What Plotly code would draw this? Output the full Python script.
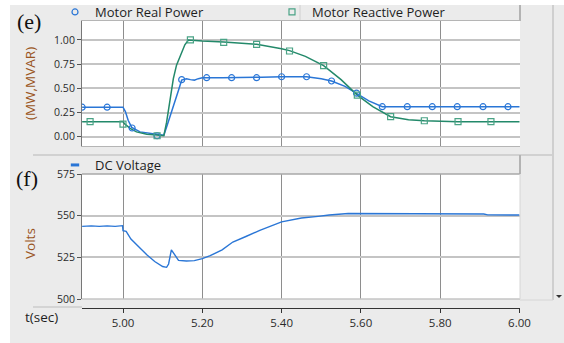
import plotly.graph_objects as go

W, H = 564, 343

# ---------------- data ----------------
# Motor Real Power (line)
t_real = [4.897, 5.0, 5.006, 5.013, 5.022, 5.043, 5.085, 5.10, 5.103, 5.11, 5.12, 5.13, 5.14,
          5.148, 5.16, 5.17, 5.18, 5.19, 5.20, 5.25, 5.30, 5.35, 5.40, 5.463, 5.50, 5.526,
          5.56, 5.589, 5.62, 5.654, 5.70, 6.0]
p_real = [0.305, 0.305, 0.26, 0.17, 0.097, 0.05, 0.025, 0.017, 0.015, 0.10, 0.22, 0.35, 0.48,
          0.586, 0.60, 0.59, 0.585, 0.60, 0.61, 0.61, 0.61, 0.615, 0.62, 0.62, 0.60, 0.576,
          0.52, 0.45, 0.37, 0.31, 0.31, 0.31]
# Motor Real Power (markers)
t_real_mk = [4.897, 4.960, 5.023, 5.086, 5.148, 5.211, 5.274, 5.337, 5.400, 5.463, 5.526,
             5.589, 5.654, 5.717, 5.780, 5.843, 5.908, 5.971]
p_real_mk = [0.305, 0.305, 0.09, 0.01, 0.59, 0.61, 0.61, 0.61, 0.62, 0.62, 0.576,
             0.45, 0.31, 0.31, 0.31, 0.31, 0.31, 0.31]

# Motor Reactive Power (line)
t_reac = [4.897, 5.0, 5.005, 5.018, 5.034, 5.06, 5.085, 5.10, 5.103, 5.11, 5.118, 5.127,
          5.135, 5.148, 5.156, 5.165, 5.18, 5.20, 5.254, 5.30, 5.337, 5.40, 5.42, 5.46,
          5.506, 5.55, 5.591, 5.63, 5.675, 5.72, 5.76, 5.845, 6.0]
q_reac = [0.155, 0.155, 0.13, 0.087, 0.05, 0.025, 0.017, 0.01, 0.01, 0.15, 0.38, 0.60,
          0.74, 0.88, 0.95, 1.0, 0.995, 0.99, 0.98, 0.97, 0.955, 0.91, 0.89, 0.83,
          0.734, 0.59, 0.43, 0.31, 0.207, 0.175, 0.165, 0.155, 0.155]
# Motor Reactive Power (markers)
t_reac_mk = [4.917, 5.000, 5.086, 5.170, 5.254, 5.337, 5.420, 5.506, 5.591, 5.675, 5.760,
             5.845, 5.928]
q_reac_mk = [0.155, 0.13, 0.01, 1.0, 0.975, 0.955, 0.886, 0.734, 0.43, 0.207, 0.165,
             0.155, 0.155]

# DC Voltage
t_dc = [4.897, 4.92, 4.94, 4.96, 4.98, 4.999, 5.0, 5.008, 5.02, 5.04, 5.06, 5.08, 5.10,
        5.11, 5.115, 5.122, 5.13, 5.14, 5.16, 5.18, 5.20, 5.22, 5.25, 5.277, 5.31, 5.345,
        5.40, 5.45, 5.492, 5.52, 5.568, 5.60, 5.70, 5.80, 5.90, 5.91, 5.92, 6.0]
v_dc = [543.6, 543.9, 543.6, 543.9, 543.6, 544.0, 541.0, 540.6, 536.0, 531.0, 526.5, 522.5,
        519.5, 519.0, 521.0, 529.5, 527.0, 523.2, 522.8, 523.0, 524.2, 526.0, 529.5, 534.2,
        537.5, 541.2, 546.3, 548.6, 549.6, 550.4, 551.3, 551.3, 551.3, 551.3, 551.3, 551.0,
        550.5, 550.4]

x_ticks = [5.0, 5.2, 5.4, 5.6, 5.8, 6.0]
x_ticktext = ["5.00", "5.20", "5.40", "5.60", "5.80", "6.00"]
y1_ticks = [0.0, 0.25, 0.5, 0.75, 1.0]
y2_ticks = [500, 525, 550, 575]

BLUE = "#2a76d6"
GREEN = "#23896a"
GREEN_MK = "#4aa386"
BG = "#ebebeb"
TICKFONT = dict(family="Open Sans", size=10.5, color="#2a2a2a")
LEGFONT = dict(family="Open Sans", size=13, color="#1e1e1e")
TITLEFONT = dict(family="Open Sans", size=13.5, color="#9a5522")


def px(x):
    return x / W


def py(y):
    return 1 - y / H


fig = go.Figure()

fig.add_trace(go.Scatter(x=t_real, y=p_real, mode="lines", line=dict(color=BLUE, width=1.5),
                         showlegend=False, xaxis="x", yaxis="y"))
fig.add_trace(go.Scatter(x=t_reac, y=q_reac, mode="lines", line=dict(color=GREEN, width=1.5),
                         showlegend=False, xaxis="x", yaxis="y"))
fig.add_trace(go.Scatter(x=t_real_mk, y=p_real_mk, mode="markers", name="Motor Real Power",
                         marker=dict(symbol="circle-open", size=6, color=BLUE, line=dict(width=1.2)),
                         xaxis="x", yaxis="y", legend="legend"))
fig.add_trace(go.Scatter(x=t_reac_mk, y=q_reac_mk, mode="markers", name="Motor Reactive Power",
                         marker=dict(symbol="square-open", size=6, color=GREEN_MK, line=dict(width=1.2)),
                         xaxis="x", yaxis="y", legend="legend2"))
fig.add_trace(go.Scatter(x=t_dc, y=v_dc, mode="lines", line=dict(color=BLUE, width=1.4),
                         showlegend=False, xaxis="x2", yaxis="y2"))
fig.add_trace(go.Scatter(x=[None], y=[None], mode="markers", name="DC Voltage",
                         marker=dict(symbol="line-ew", size=6, color=BLUE,
                                     line=dict(width=3, color=BLUE)),
                         xaxis="x2", yaxis="y2", legend="legend3"))

xr = [4.8966, 6.0013]
xdom = [px(82), px(520)]

common_x = dict(range=xr, domain=xdom, tickvals=x_ticks, showgrid=True,
                gridcolor="#8e8e8e", gridwidth=1, zeroline=False, automargin=False)

fig.update_layout(
    width=W, height=H, autosize=False,
    margin=dict(l=0, r=0, t=0, b=0, pad=0, autoexpand=False),
    paper_bgcolor=BG, plot_bgcolor="white",
    xaxis=dict(**common_x, anchor="y", showticklabels=False, ticks="",
               showline=True, linecolor="#b5b5b5", mirror=True),
    yaxis=dict(domain=[py(146), py(21)], range=[-0.096, 1.196], tickvals=y1_ticks,
               tickformat=".2f", tickfont=TICKFONT, ticks="outside", ticklen=4,
               tickcolor="#555", showgrid=True, gridcolor="#c4c4c4", gridwidth=1.5,
               zeroline=False, showline=True, linecolor="#777", anchor="x", automargin=False),
    xaxis2=dict(**common_x, anchor="free", position=py(308), ticktext=x_ticktext,
                tickfont=dict(family="Open Sans", size=11.5, color="#2a2a2a"),
                ticks="outside", ticklen=4, tickcolor="#333",
                showline=True, linecolor="#333", linewidth=1),
    yaxis2=dict(domain=[py(299), py(174)], range=[500, 575], tickvals=y2_ticks,
                tickfont=TICKFONT, ticks="outside", ticklen=4, tickcolor="#555",
                showgrid=True, gridcolor="#c4c4c4", gridwidth=1.5, zeroline=False,
                showline=True, linecolor="#777", anchor="x2", automargin=False),
    legend=dict(x=px(55), y=py(12), xanchor="left", yanchor="middle", orientation="h",
                bgcolor="rgba(0,0,0,0)", font=LEGFONT, itemwidth=30),
    legend2=dict(x=px(272), y=py(12), xanchor="left", yanchor="middle", orientation="h",
                 bgcolor="rgba(0,0,0,0)", font=LEGFONT, itemwidth=30),
    legend3=dict(x=px(55), y=py(165), xanchor="left", yanchor="middle", orientation="h",
                 bgcolor="rgba(0,0,0,0)", font=LEGFONT, itemwidth=30),
    showlegend=True,
)

shapes = [
    # white outer strips
    dict(type="rect", xref="paper", yref="paper", x0=0, x1=px(10), y0=0, y1=1,
         fillcolor="white", line=dict(width=0), layer="below"),
    dict(type="rect", xref="paper", yref="paper", x0=0, x1=1, y0=py(5), y1=1,
         fillcolor="white", line=dict(width=0), layer="below"),
    # header band borders (top)
    dict(type="line", xref="paper", yref="paper", x0=px(520), x1=px(520), y0=py(5), y1=py(21),
         line=dict(color="#b3b3b3", width=2)),
    dict(type="line", xref="paper", yref="paper", x0=px(300), x1=px(300), y0=py(5), y1=py(20),
         line=dict(color="#d0d0d0", width=1)),
    # separator / header band (bottom)
    dict(type="line", xref="paper", yref="paper", x0=px(33), x1=px(553), y0=py(155), y1=py(155),
         line=dict(color="#c8c8c8", width=1.5)),
    dict(type="line", xref="paper", yref="paper", x0=px(520), x1=px(520), y0=py(155), y1=py(174),
         line=dict(color="#b3b3b3", width=2)),
    dict(type="line", xref="paper", yref="paper", x0=px(82), x1=px(520), y0=py(174), y1=py(174),
         line=dict(color="#a8a8a8", width=1.5)),
    # bottom plot lower/right borders
    dict(type="line", xref="paper", yref="paper", x0=px(82), x1=px(520), y0=py(299), y1=py(299),
         line=dict(color="#c4c4c4", width=1.5)),
    dict(type="line", xref="paper", yref="paper", x0=px(520), x1=px(520), y0=py(174), y1=py(299),
         line=dict(color="#d6d6d6", width=1)),
    # axis extension line left of x axis
    dict(type="line", xref="paper", yref="paper", x0=px(33), x1=px(82), y0=py(307), y1=py(307),
         line=dict(color="#bdbdbd", width=1)),
    # scrollbar line
    dict(type="line", xref="paper", yref="paper", x0=px(553), x1=px(553), y0=py(5), y1=py(300),
         line=dict(color="#cfcfcf", width=2)),
    dict(type="line", xref="paper", yref="paper", x0=px(520), x1=px(553), y0=py(300), y1=py(300),
         line=dict(color="#d6d6d6", width=1)),
    dict(type="path", xref="paper", yref="paper",
         path=f"M {px(556)} {py(295)} L {px(562)} {py(295)} L {px(559)} {py(298)} Z",
         fillcolor="#333", line=dict(width=0)),
]
fig.update_layout(shapes=shapes)


def ann(text, x, y, font, angle=0):
    return dict(text=text, x=px(x), y=py(y), xref="paper", yref="paper", showarrow=False,
                xanchor="center", yanchor="middle", textangle=angle, font=font)


annotations = [
    ann("(e)", 29, 22, dict(family="Liberation Serif", size=22, color="#111")),
    ann("(f)", 27, 178, dict(family="Liberation Serif", size=22, color="#111")),
    ann("(MW,MVAR)", 30, 84, TITLEFONT, -90),
    ann("Volts", 30, 244, TITLEFONT, -90),
    ann("t(sec)", 41, 317, dict(family="Open Sans", size=13.5, color="#1e1e1e")),
]
fig.update_layout(annotations=annotations)

fig.write_html("out.html")
